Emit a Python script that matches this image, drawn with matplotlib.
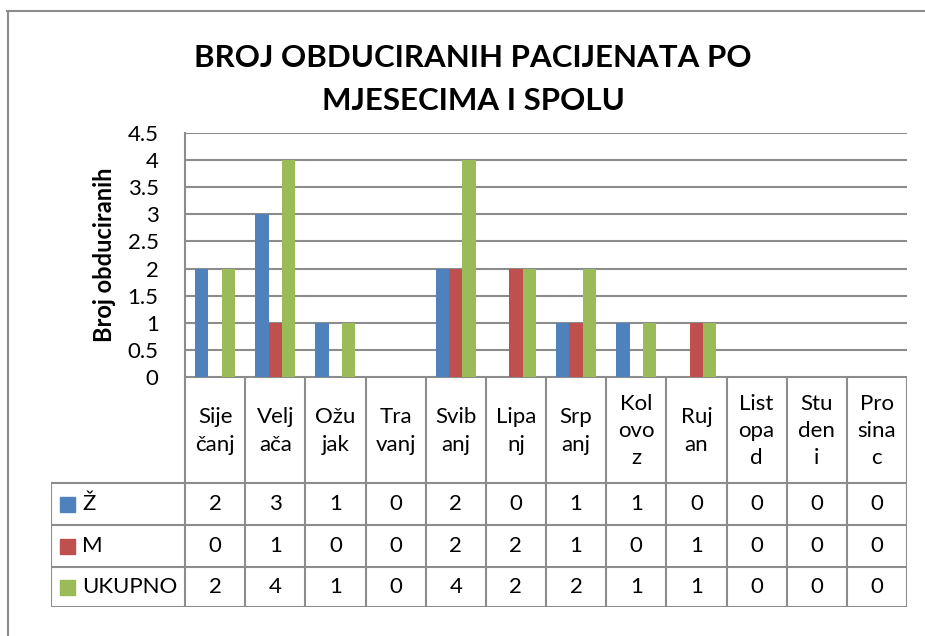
import numpy as np
import matplotlib
matplotlib.use('Agg')
import matplotlib.pyplot as plt
from matplotlib.patches import Rectangle
from matplotlib.lines import Line2D

plt.rcParams['font.family'] = ['Lato', 'DejaVu Sans']

# data
months = ['Sije\nčanj', 'Velj\nača', 'Ožu\njak', 'Tra\nvanj', 'Svib\nanj', 'Lipa\nnj',
          'Srp\nanj', 'Kol\novo\nz', 'Ruj\nan', 'List\nopa\nd', 'Stu\nden\ni', 'Pro\nsina\nc']
series_names = ['Ž', 'M', 'UKUPNO']
zene = [2, 3, 1, 0, 2, 0, 1, 1, 0, 0, 0, 0]
muski = [0, 1, 0, 0, 2, 2, 1, 0, 1, 0, 0, 0]
ukupno = [2, 4, 1, 0, 4, 2, 2, 1, 1, 0, 0, 0]
yticks = [0, 0.5, 1, 1.5, 2, 2.5, 3, 3.5, 4, 4.5]
ytick_labels = ['0', '0.5', '1', '1.5', '2', '2.5', '3', '3.5', '4', '4.5']

colors = ['#4F81BD', '#C0504D', '#9BBB59']
grid_c = '#8C8C8C'
W, H = 925, 636
fs = 16

fig = plt.figure(figsize=(W / 100, H / 100), dpi=100)

# outer chart border (top + left)
fig.add_artist(Line2D([7 / W, 1], [1 - 11 / H, 1 - 11 / H], color='#8C8C8C', lw=1.5))
fig.add_artist(Line2D([8 / W, 8 / W], [1 - 11 / H, 0], color='#8C8C8C', lw=1.5))

# bar axes (pixel box: x 185..907, y 133..377)
px_l, px_r, px_t, px_b = 185, 907, 133, 377
ax = fig.add_axes([px_l / W, 1 - px_b / H, (px_r - px_l) / W, (px_b - px_t) / H])
x = np.arange(len(months))
bw = 0.222
for i, (vals, c) in enumerate(zip([zene, muski, ukupno], colors)):
    ax.bar(x + (i - 1) * bw, vals, width=bw, color=c, zorder=3)
ax.set_xlim(-0.5, len(months) - 0.5)
ax.set_ylim(0, 4.5)
ax.set_yticks(yticks)
ax.set_yticklabels(ytick_labels, fontsize=fs)
ax.set_xticks([])
ax.tick_params(axis='y', length=0, pad=19)
ax.yaxis.grid(True, color=grid_c, lw=1.5, zorder=0)
for s in ['top', 'right', 'bottom']:
    ax.spines[s].set_visible(False)
ax.spines['left'].set_color(grid_c)
ax.spines['left'].set_linewidth(1.5)
ax.set_ylabel('Broj obduciranih', fontsize=17, fontweight='bold')
ax.yaxis.set_label_coords(-0.095, 0.5)

# data table axes (pixel box: x 51..907, y 377..607)
tb_l, tb_t, tb_b = 51, 377, 607
cw = (px_r - px_l) / len(months)
left_units = (px_l - tb_l) / cw
tax = fig.add_axes([tb_l / W, 1 - tb_b / H, (px_r - tb_l) / W, (tb_b - tb_t) / H])
tax.set_xlim(-0.5 - left_units, len(months) - 0.5)
tax.set_ylim(tb_b - tb_t, 0)
tax.axis('off')
row_edges = [0, 106, 148, 190, 230]
xl = -0.5 - left_units
xr = len(months) - 0.5
lk = dict(color=grid_c, lw=1.5, solid_capstyle='projecting')
tax.plot([-0.5, xr], [0, 0], **lk)
for yy in row_edges[1:]:
    tax.plot([xl, xr], [yy, yy], **lk)
for k in range(len(months) + 1):
    tax.plot([k - 0.5, k - 0.5], [0, 230], **lk)
tax.plot([xl, xl], [row_edges[1], 230], **lk)
for k, m in enumerate(months):
    tax.text(k, 54, m, ha='center', va='center', fontsize=fs, linespacing=1.45)
for r, (name, vals, c) in enumerate(zip(series_names, [zene, muski, ukupno], colors)):
    yc = (row_edges[r + 1] + row_edges[r + 2]) / 2
    tax.add_patch(Rectangle((xl + 9 / cw, yc - 7.5), 15 / cw, 15, color=c, clip_on=False))
    tax.text(xl + 31 / cw, yc, name, ha='left', va='center', fontsize=fs)
    for k, v in enumerate(vals):
        tax.text(k, yc, str(v), ha='center', va='center', fontsize=fs)

fig.text(473 / W, 1 - 58 / H, 'BROJ OBDUCIRANIH PACIJENATA PO', ha='center', va='center',
         fontsize=22.5, fontweight='bold')
fig.text(473 / W, 1 - 101 / H, 'MJESECIMA I SPOLU', ha='center', va='center',
         fontsize=22.5, fontweight='bold')

fig.savefig('out.png', dpi=100, facecolor='white')
